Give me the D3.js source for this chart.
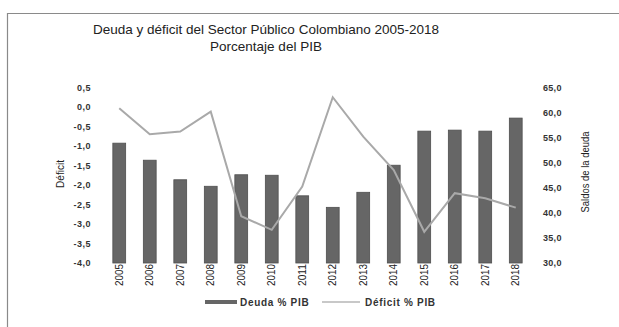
<!DOCTYPE html>
<html>
<head>
<meta charset="utf-8">
<script src="https://cdn.jsdelivr.net/npm/d3@7/dist/d3.min.js"></script>
<style>
  body { margin: 0; background: #fff; }
  #chart { width: 619px; height: 327px; }
  text { font-family: "Liberation Sans", Arial, sans-serif; }
</style>
</head>
<body>
<div id="chart"></div>
<script>
// Data
const years = ["2005","2006","2007","2008","2009","2010","2011","2012","2013","2014","2015","2016","2017","2018"];
const deuda = [53.9, 50.5, 46.6, 45.3, 47.6, 47.5, 43.4, 41.1, 44.1, 49.5, 56.3, 56.5, 56.3, 58.9];
const deficit = [-0.03, -0.7, -0.63, -0.12, -2.8, -3.15, -2.04, 0.25, -0.76, -1.62, -3.2, -2.21, -2.34, -2.58];
const leftTicks = [0.5, 0, -0.5, -1, -1.5, -2, -2.5, -3, -3.5, -4];
const rightTicks = [65, 60, 55, 50, 45, 40, 35, 30];

const width = 619, height = 327;
const svg = d3.select("#chart").append("svg")
  .attr("width", width)
  .attr("height", height);

// outer frame (only top and left are visible in the picture)
svg.append("path")
  .attr("d", `M7.5,${height} V13.5 H${width}`)
  .attr("fill", "none")
  .attr("stroke", "#8a8a8a")
  .attr("stroke-width", 1.2);

// title
const title = svg.append("text")
  .attr("text-anchor", "middle")
  .attr("fill", "#222")
  .style("font-size", "13.5px");
title.append("tspan").attr("x", 266).attr("y", 34).text("Deuda y déficit del Sector Público Colombiano 2005-2018");
title.append("tspan").attr("x", 266).attr("y", 50.5).text("Porcentaje del PIB");

// scales
const x = d3.scaleBand()
  .domain(years)
  .range([104, 531])
  .paddingInner(0.58)
  .paddingOuter(0.29);

const yL = d3.scaleLinear().domain([-4, 0.5]).range([263, 87.5]);
const yR = d3.scaleLinear().domain([30, 65]).range([263, 87.5]);

const fmt = d => d3.format(".1f")(d).replace(".", ",").replace("−", "-");

// left axis (labels only)
const leftAxis = svg.append("g")
  .attr("transform", "translate(91,0)")
  .call(d3.axisLeft(yL).tickValues(leftTicks).tickFormat(fmt).tickSize(0).tickPadding(0));
leftAxis.select(".domain").remove();
leftAxis.selectAll("text")
  .attr("fill", "#333")
  .style("font-size", "9px")
  .style("font-weight", "bold")
  .style("letter-spacing", "0.5px")
  .style("font-family", "'Liberation Sans', Arial, sans-serif");

// right axis (labels only)
const rightAxis = svg.append("g")
  .attr("transform", "translate(543,0)")
  .call(d3.axisRight(yR).tickValues(rightTicks).tickFormat(fmt).tickSize(0).tickPadding(0));
rightAxis.select(".domain").remove();
rightAxis.selectAll("text")
  .attr("fill", "#333")
  .style("font-size", "9px")
  .style("font-weight", "bold")
  .style("letter-spacing", "0.3px")
  .style("font-family", "'Liberation Sans', Arial, sans-serif");

// axis titles (narrow lettering, squeezed to the widths seen)
svg.append("text")
  .attr("transform", "translate(64,174) rotate(-90)")
  .attr("text-anchor", "middle")
  .attr("fill", "#222")
  .attr("textLength", 28)
  .attr("lengthAdjust", "spacingAndGlyphs")
  .style("font-size", "11.5px")
  .text("Déficit");

svg.append("text")
  .attr("transform", "translate(589,172) rotate(-90)")
  .attr("text-anchor", "middle")
  .attr("fill", "#222")
  .attr("textLength", 81)
  .attr("lengthAdjust", "spacingAndGlyphs")
  .style("font-size", "11.5px")
  .text("Saldos de la deuda");

// bars
svg.append("g").selectAll("rect")
  .data(years)
  .join("rect")
  .attr("x", d => x(d))
  .attr("width", x.bandwidth())
  .attr("y", (d, i) => yR(deuda[i]))
  .attr("height", (d, i) => yR(30) - yR(deuda[i]))
  .attr("fill", "#666")
  .attr("stroke", "#4f4f4f")
  .attr("stroke-width", 0.8);

// deficit line
const line = d3.line()
  .x((d, i) => x(years[i]) + x.bandwidth() / 2)
  .y(d => yL(d));

svg.append("path")
  .datum(deficit)
  .attr("d", line)
  .attr("fill", "none")
  .attr("stroke", "#a9a9a9")
  .attr("stroke-width", 2);

// x labels
svg.append("g").selectAll("text")
  .data(years)
  .join("text")
  .attr("transform", d => `translate(${x(d) + x.bandwidth() / 2 + 3.5},264) rotate(-90)`)
  .attr("text-anchor", "end")
  .attr("fill", "#222")
  .attr("textLength", 22)
  .attr("lengthAdjust", "spacingAndGlyphs")
  .style("font-size", "10.5px")
  .text(d => d);

// legend
const lg = svg.append("g").attr("transform", "translate(0,302)");
lg.append("rect").attr("x", 205).attr("y", -2).attr("width", 32).attr("height", 4).attr("fill", "#666");
lg.append("text").attr("x", 240).attr("y", 3.5).attr("fill", "#333")
  .style("font-size", "10px").style("font-weight", "bold").style("letter-spacing", "0.7px")
  .text("Deuda % PIB");
lg.append("line").attr("x1", 322).attr("x2", 360).attr("y1", 0).attr("y2", 0)
  .attr("stroke", "#c8c8c8").attr("stroke-width", 2);
lg.append("text").attr("x", 365).attr("y", 3.5).attr("fill", "#333")
  .style("font-size", "10px").style("font-weight", "bold").style("letter-spacing", "0.7px")
  .text("Déficit % PIB");
</script>
</body>
</html>
